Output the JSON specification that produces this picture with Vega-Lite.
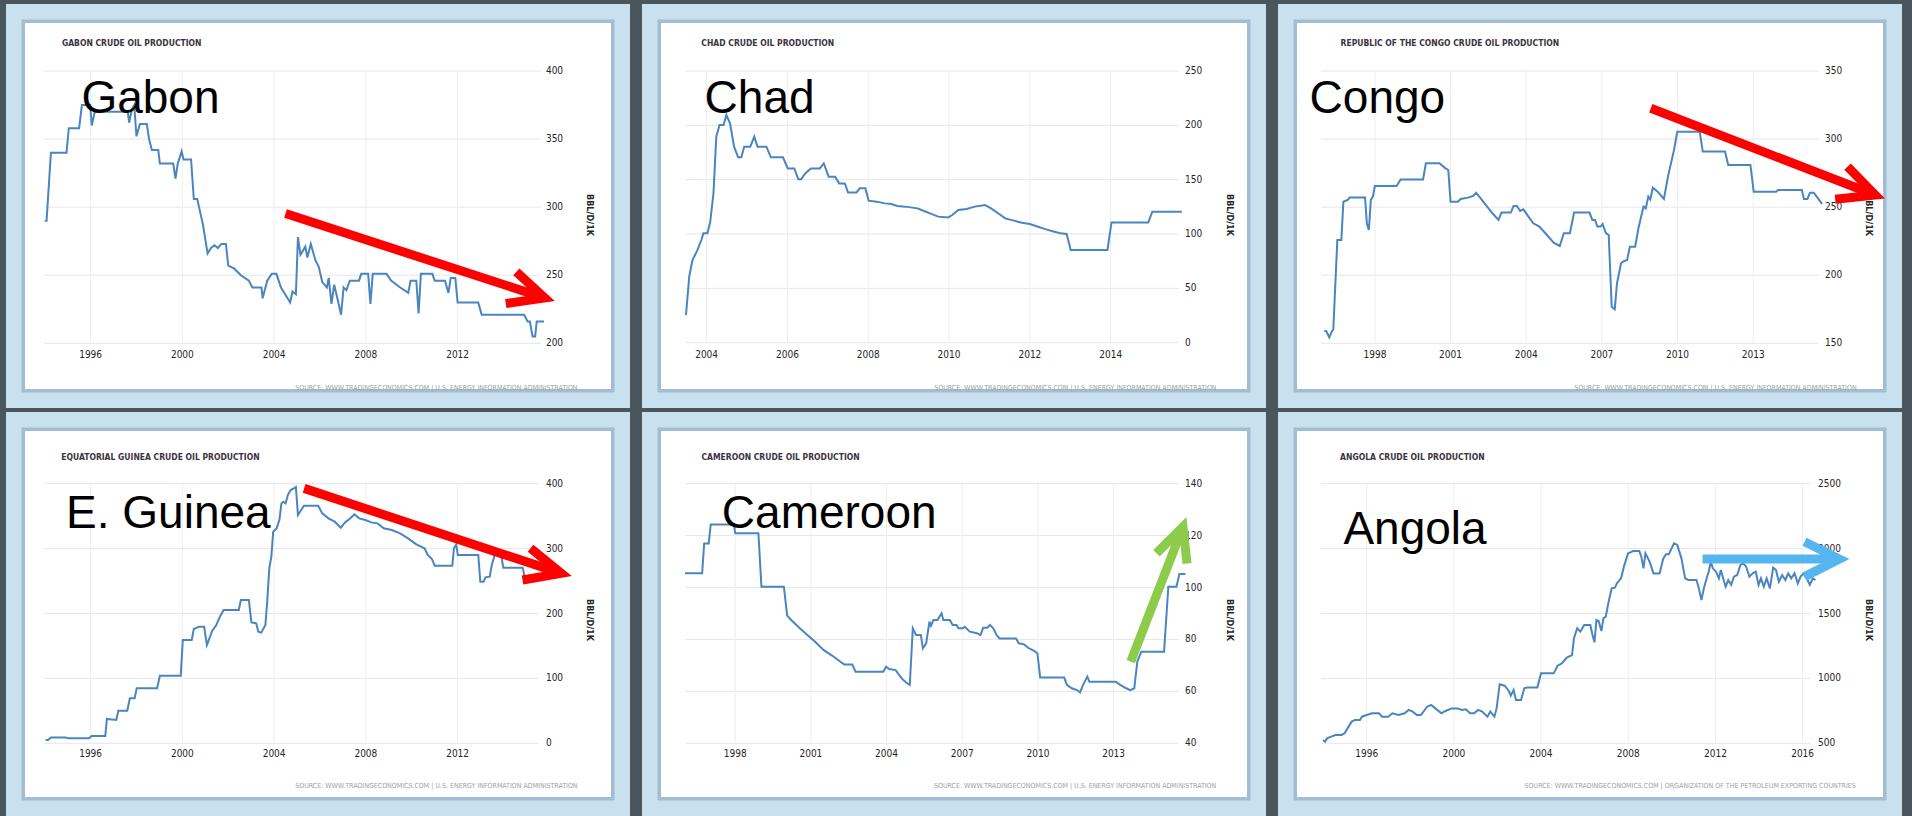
{
"$schema": "https://vega.github.io/schema/vega-lite/v6.json",
"background": "#4a565e",
"padding": {"left": 6, "top": 4, "right": 10, "bottom": 0},
"spacing": 4,
"config": {
 "view": {"fill": "white", "stroke": null},
 "text": {"font": "DejaVu Sans Condensed, Liberation Sans, sans-serif", "color": "#262626", "fontSize": 10}
},
"datasets": {
 "gab": [{"t":1994.0,"v":290},{"t":1994.08,"v":290},{"t":1994.27,"v":340},{"t":1994.95,"v":340},{"t":1995.05,"v":358},{"t":1995.5,"v":358},{"t":1995.62,"v":375},{"t":1995.98,"v":375},{"t":1996.05,"v":360},{"t":1996.18,"v":370},{"t":1996.5,"v":370},{"t":1997.0,"v":370},{"t":1997.62,"v":370},{"t":1997.68,"v":362},{"t":1997.8,"v":372},{"t":1997.9,"v":375},{"t":1998.0,"v":352},{"t":1998.15,"v":361},{"t":1998.45,"v":361},{"t":1998.55,"v":350},{"t":1998.67,"v":342},{"t":1998.95,"v":342},{"t":1999.02,"v":332},{"t":1999.6,"v":332},{"t":1999.7,"v":321},{"t":1999.8,"v":332},{"t":1999.97,"v":341},{"t":2000.05,"v":335},{"t":2000.38,"v":335},{"t":2000.5,"v":306},{"t":2000.65,"v":306},{"t":2000.9,"v":287},{"t":2001.1,"v":266},{"t":2001.25,"v":270},{"t":2001.4,"v":272},{"t":2001.55,"v":270},{"t":2001.7,"v":273},{"t":2001.9,"v":273},{"t":2002.0,"v":257},{"t":2002.25,"v":255},{"t":2002.55,"v":250},{"t":2002.9,"v":246},{"t":2003.05,"v":241},{"t":2003.45,"v":241},{"t":2003.5,"v":233},{"t":2003.7,"v":246},{"t":2003.9,"v":251},{"t":2004.1,"v":251},{"t":2004.3,"v":241},{"t":2004.7,"v":230},{"t":2004.8,"v":238},{"t":2004.95,"v":236},{"t":2005.04,"v":278},{"t":2005.15,"v":265},{"t":2005.36,"v":271},{"t":2005.45,"v":263},{"t":2005.6,"v":273},{"t":2005.8,"v":261},{"t":2005.95,"v":256},{"t":2006.1,"v":245},{"t":2006.3,"v":241},{"t":2006.38,"v":248},{"t":2006.5,"v":229},{"t":2006.62,"v":243},{"t":2006.8,"v":230},{"t":2006.92,"v":221},{"t":2007.03,"v":241},{"t":2007.15,"v":239},{"t":2007.3,"v":246},{"t":2007.7,"v":246},{"t":2007.8,"v":251},{"t":2008.1,"v":251},{"t":2008.2,"v":229},{"t":2008.3,"v":251},{"t":2008.9,"v":251},{"t":2009.1,"v":246},{"t":2009.5,"v":241},{"t":2009.85,"v":237},{"t":2009.95,"v":246},{"t":2010.2,"v":246},{"t":2010.3,"v":222},{"t":2010.4,"v":251},{"t":2010.9,"v":251},{"t":2011.0,"v":246},{"t":2011.45,"v":246},{"t":2011.6,"v":237},{"t":2011.7,"v":248},{"t":2011.9,"v":248},{"t":2012.0,"v":230},{"t":2012.9,"v":230},{"t":2013.05,"v":221},{"t":2014.9,"v":221},{"t":2015.05,"v":216},{"t":2015.15,"v":216},{"t":2015.27,"v":205},{"t":2015.38,"v":205},{"t":2015.45,"v":216},{"t":2015.77,"v":216}],
 "chd": [{"t":2003.49,"v":25.5},{"t":2003.57,"v":60.7},{"t":2003.65,"v":76},{"t":2003.77,"v":85},{"t":2003.87,"v":94.5},{"t":2003.92,"v":100.6},{"t":2004.02,"v":100.6},{"t":2004.09,"v":111.3},{"t":2004.17,"v":137.4},{"t":2004.24,"v":189.6},{"t":2004.32,"v":200.3},{"t":2004.42,"v":200.3},{"t":2004.49,"v":209.5},{"t":2004.58,"v":201.8},{"t":2004.68,"v":180.4},{"t":2004.78,"v":170.6},{"t":2004.86,"v":170.6},{"t":2004.93,"v":180.4},{"t":2005.08,"v":180.4},{"t":2005.18,"v":189.6},{"t":2005.26,"v":180.4},{"t":2005.48,"v":180.4},{"t":2005.59,"v":170.6},{"t":2005.89,"v":170.6},{"t":2006.01,"v":160.4},{"t":2006.17,"v":160.4},{"t":2006.27,"v":150.3},{"t":2006.34,"v":150.3},{"t":2006.44,"v":155.8},{"t":2006.58,"v":160.4},{"t":2006.8,"v":160.4},{"t":2006.9,"v":165},{"t":2007.02,"v":152.8},{"t":2007.18,"v":152.8},{"t":2007.28,"v":146.6},{"t":2007.42,"v":146.6},{"t":2007.5,"v":138.3},{"t":2007.71,"v":138.3},{"t":2007.79,"v":142},{"t":2007.93,"v":142},{"t":2008.01,"v":130.7},{"t":2008.21,"v":129.8},{"t":2008.41,"v":128.2},{"t":2008.57,"v":127.6},{"t":2008.72,"v":125.8},{"t":2008.92,"v":125.2},{"t":2009.22,"v":123.6},{"t":2009.32,"v":122.1},{"t":2009.53,"v":119},{"t":2009.73,"v":116},{"t":2009.98,"v":115.3},{"t":2010.08,"v":117.5},{"t":2010.23,"v":122.1},{"t":2010.43,"v":123},{"t":2010.64,"v":125.2},{"t":2010.89,"v":126.7},{"t":2011.04,"v":123.6},{"t":2011.24,"v":118.4},{"t":2011.39,"v":114.4},{"t":2011.6,"v":112.3},{"t":2011.8,"v":110.4},{"t":2012.0,"v":109.2},{"t":2012.2,"v":106.7},{"t":2012.4,"v":104.3},{"t":2012.61,"v":102.1},{"t":2012.76,"v":100.6},{"t":2012.91,"v":100},{"t":2013.01,"v":85.3},{"t":2013.92,"v":85.3},{"t":2014.02,"v":110.7},{"t":2014.93,"v":110.7},{"t":2015.03,"v":120.6},{"t":2015.76,"v":120.6}],
 "cgo": [{"t":1995.99,"v":159},{"t":1996.07,"v":159},{"t":1996.19,"v":154.4},{"t":1996.3,"v":159},{"t":1996.35,"v":160},{"t":1996.51,"v":225.9},{"t":1996.67,"v":225.9},{"t":1996.75,"v":254},{"t":1996.92,"v":255.3},{"t":1997.0,"v":257},{"t":1997.61,"v":257},{"t":1997.68,"v":238.1},{"t":1997.76,"v":233.2},{"t":1997.84,"v":255.3},{"t":1997.92,"v":257.7},{"t":1998.0,"v":265.5},{"t":1998.86,"v":265.5},{"t":1999.02,"v":270.4},{"t":1999.91,"v":270.4},{"t":2000.02,"v":282.2},{"t":2000.56,"v":282.2},{"t":2000.8,"v":278.5},{"t":2000.91,"v":277.3},{"t":2001.0,"v":254},{"t":2001.29,"v":254},{"t":2001.4,"v":256},{"t":2001.69,"v":257},{"t":2001.9,"v":258.2},{"t":2002.01,"v":260.6},{"t":2002.17,"v":257},{"t":2002.42,"v":251.1},{"t":2002.66,"v":245.5},{"t":2002.9,"v":240.6},{"t":2003.02,"v":246},{"t":2003.39,"v":246},{"t":2003.5,"v":250.9},{"t":2003.63,"v":250.9},{"t":2003.76,"v":247.2},{"t":2003.89,"v":248.4},{"t":2004.04,"v":244.3},{"t":2004.28,"v":238.1},{"t":2004.52,"v":235.7},{"t":2004.76,"v":230.8},{"t":2005.09,"v":223.9},{"t":2005.33,"v":221.5},{"t":2005.49,"v":230.8},{"t":2005.73,"v":230.8},{"t":2005.9,"v":246},{"t":2006.51,"v":246},{"t":2006.62,"v":240.6},{"t":2006.73,"v":240.6},{"t":2006.82,"v":235.7},{"t":2006.95,"v":235.7},{"t":2007.03,"v":237.6},{"t":2007.16,"v":230.8},{"t":2007.27,"v":229.6},{"t":2007.39,"v":176.9},{"t":2007.51,"v":175},{"t":2007.6,"v":194.1},{"t":2007.76,"v":208.8},{"t":2007.84,"v":210},{"t":2008.0,"v":211.2},{"t":2008.11,"v":221},{"t":2008.32,"v":221},{"t":2008.45,"v":234.5},{"t":2008.65,"v":250.4},{"t":2008.74,"v":249.1},{"t":2008.84,"v":257.7},{"t":2008.92,"v":255.7},{"t":2009.02,"v":264.3},{"t":2009.21,"v":261.4},{"t":2009.46,"v":256},{"t":2009.62,"v":272.4},{"t":2009.86,"v":292},{"t":2009.99,"v":305.4},{"t":2010.88,"v":305.4},{"t":2011.0,"v":290.8},{"t":2011.88,"v":290.8},{"t":2012.01,"v":281},{"t":2012.89,"v":281},{"t":2013.02,"v":261.4},{"t":2013.91,"v":261.4},{"t":2013.99,"v":262.6},{"t":2014.93,"v":262.6},{"t":2015.01,"v":256},{"t":2015.15,"v":256},{"t":2015.25,"v":260.6},{"t":2015.4,"v":260.6},{"t":2015.57,"v":256.5},{"t":2015.73,"v":252.3}],
 "eqg": [{"t":1994.04,"v":5},{"t":1994.15,"v":5},{"t":1994.27,"v":9},{"t":1994.9,"v":9},{"t":1995.04,"v":7.7},{"t":1995.93,"v":7.7},{"t":1996.05,"v":11.3},{"t":1996.64,"v":11.3},{"t":1996.71,"v":37.5},{"t":1997.12,"v":36},{"t":1997.21,"v":50.3},{"t":1997.6,"v":50.3},{"t":1997.71,"v":69.3},{"t":1997.92,"v":69.3},{"t":1998.01,"v":84.7},{"t":1998.9,"v":84.7},{"t":1999.02,"v":104.2},{"t":1999.93,"v":104.2},{"t":2000.02,"v":159.2},{"t":2000.41,"v":159.2},{"t":2000.5,"v":176.1},{"t":2000.73,"v":179.7},{"t":2000.95,"v":179.7},{"t":2001.07,"v":151.5},{"t":2001.18,"v":161.7},{"t":2001.3,"v":173},{"t":2001.48,"v":182.3},{"t":2001.66,"v":196.6},{"t":2001.8,"v":205.4},{"t":2002.46,"v":205.4},{"t":2002.55,"v":220.8},{"t":2002.9,"v":220.8},{"t":2003.01,"v":186.4},{"t":2003.22,"v":184.9},{"t":2003.31,"v":172},{"t":2003.44,"v":170.5},{"t":2003.62,"v":182.3},{"t":2003.7,"v":218.2},{"t":2003.79,"v":269.6},{"t":2003.88,"v":287.5},{"t":2003.96,"v":326},{"t":2004.11,"v":331.2},{"t":2004.23,"v":344},{"t":2004.32,"v":369.7},{"t":2004.4,"v":372.3},{"t":2004.5,"v":369.7},{"t":2004.6,"v":382.5},{"t":2004.72,"v":390.2},{"t":2004.86,"v":392.8},{"t":2004.95,"v":394.9},{"t":2005.04,"v":351.7},{"t":2005.18,"v":359.4},{"t":2005.3,"v":366.1},{"t":2005.92,"v":366.1},{"t":2006.1,"v":354.3},{"t":2006.37,"v":346.6},{"t":2006.64,"v":341.5},{"t":2006.91,"v":332.2},{"t":2007.09,"v":340.4},{"t":2007.35,"v":347.6},{"t":2007.5,"v":352.8},{"t":2007.71,"v":346.6},{"t":2007.98,"v":344},{"t":2008.24,"v":340.4},{"t":2008.51,"v":338.9},{"t":2008.78,"v":331.2},{"t":2009.13,"v":328.6},{"t":2009.49,"v":323.5},{"t":2009.84,"v":315.8},{"t":2010.2,"v":306.5},{"t":2010.56,"v":300.4},{"t":2010.7,"v":290.1},{"t":2010.88,"v":284},{"t":2011.0,"v":273.7},{"t":2011.77,"v":273.7},{"t":2011.84,"v":300.4},{"t":2011.94,"v":306.5},{"t":2012.01,"v":290.1},{"t":2012.9,"v":290.1},{"t":2012.99,"v":249},{"t":2013.13,"v":249},{"t":2013.22,"v":255.7},{"t":2013.4,"v":256.7},{"t":2013.49,"v":274.7},{"t":2013.62,"v":290.1},{"t":2013.9,"v":290.1},{"t":2013.99,"v":270.6},{"t":2014.84,"v":270.6},{"t":2014.93,"v":254.2},{"t":2015.73,"v":251.6}],
 "cmr": [{"t":1996.01,"v":105.5},{"t":1996.69,"v":105.5},{"t":1996.77,"v":117},{"t":1996.95,"v":117},{"t":1997.03,"v":124.3},{"t":1997.95,"v":124.3},{"t":1998.0,"v":120.9},{"t":1998.92,"v":120.9},{"t":1999.04,"v":100.3},{"t":1999.93,"v":100.3},{"t":2000.06,"v":89.2},{"t":2000.22,"v":87.5},{"t":2000.54,"v":84.5},{"t":2000.86,"v":81.7},{"t":2001.19,"v":78.9},{"t":2001.51,"v":75.9},{"t":2001.84,"v":73.8},{"t":2002.16,"v":71.5},{"t":2002.32,"v":70.4},{"t":2002.64,"v":70.4},{"t":2002.77,"v":67.6},{"t":2003.87,"v":67.6},{"t":2003.98,"v":69.5},{"t":2004.11,"v":68.6},{"t":2004.36,"v":68.2},{"t":2004.6,"v":65},{"t":2004.76,"v":63.5},{"t":2004.92,"v":62.5},{"t":2005.04,"v":84.3},{"t":2005.17,"v":81.7},{"t":2005.36,"v":81.7},{"t":2005.44,"v":76.6},{"t":2005.57,"v":78.5},{"t":2005.7,"v":86.9},{"t":2005.76,"v":85.3},{"t":2005.86,"v":87.5},{"t":2006.02,"v":87.5},{"t":2006.18,"v":90.1},{"t":2006.25,"v":87.5},{"t":2006.51,"v":87.5},{"t":2006.62,"v":85.6},{"t":2006.77,"v":85.6},{"t":2006.85,"v":84.3},{"t":2007.02,"v":84.3},{"t":2007.1,"v":84.9},{"t":2007.3,"v":83},{"t":2007.58,"v":82.4},{"t":2007.72,"v":81.7},{"t":2007.83,"v":84.5},{"t":2007.99,"v":84.5},{"t":2008.1,"v":85.6},{"t":2008.23,"v":84.3},{"t":2008.36,"v":81.7},{"t":2008.48,"v":80.4},{"t":2009.13,"v":80.4},{"t":2009.24,"v":78.5},{"t":2009.45,"v":78.1},{"t":2009.61,"v":76.8},{"t":2009.85,"v":75.6},{"t":2009.98,"v":74.7},{"t":2010.09,"v":65.3},{"t":2011.04,"v":65.3},{"t":2011.15,"v":62.5},{"t":2011.34,"v":61.2},{"t":2011.55,"v":60.5},{"t":2011.67,"v":59.6},{"t":2011.8,"v":62.7},{"t":2011.96,"v":65.7},{"t":2012.04,"v":63.7},{"t":2013.09,"v":63.7},{"t":2013.26,"v":62.5},{"t":2013.5,"v":61.2},{"t":2013.66,"v":60.5},{"t":2013.82,"v":61.2},{"t":2013.94,"v":71.5},{"t":2014.1,"v":75.3},{"t":2015.0,"v":75.3},{"t":2015.17,"v":100.3},{"t":2015.49,"v":100.3},{"t":2015.61,"v":105.2},{"t":2015.85,"v":105.2}],
 "ago": [{"t":1994.0,"v":526},{"t":1994.09,"v":513},{"t":1994.18,"v":538},{"t":1994.37,"v":551},{"t":1994.56,"v":564},{"t":1994.84,"v":564},{"t":1994.99,"v":577},{"t":1995.12,"v":615},{"t":1995.31,"v":667},{"t":1995.46,"v":680},{"t":1995.69,"v":680},{"t":1995.78,"v":705},{"t":1996.0,"v":718},{"t":1996.24,"v":731},{"t":1996.56,"v":731},{"t":1996.71,"v":705},{"t":1996.99,"v":705},{"t":1997.18,"v":731},{"t":1997.46,"v":718},{"t":1997.74,"v":731},{"t":1997.93,"v":757},{"t":1998.11,"v":744},{"t":1998.3,"v":718},{"t":1998.49,"v":718},{"t":1998.77,"v":782},{"t":1998.96,"v":795},{"t":1999.15,"v":769},{"t":1999.43,"v":731},{"t":1999.61,"v":749},{"t":1999.9,"v":769},{"t":2000.18,"v":769},{"t":2000.36,"v":757},{"t":2000.55,"v":762},{"t":2000.74,"v":731},{"t":2000.93,"v":731},{"t":2001.11,"v":757},{"t":2001.3,"v":744},{"t":2001.54,"v":705},{"t":2001.67,"v":744},{"t":2001.86,"v":705},{"t":2001.96,"v":769},{"t":2002.1,"v":955},{"t":2002.33,"v":944},{"t":2002.52,"v":903},{"t":2002.61,"v":867},{"t":2002.74,"v":911},{"t":2002.85,"v":834},{"t":2003.08,"v":834},{"t":2003.23,"v":924},{"t":2003.36,"v":929},{"t":2003.83,"v":929},{"t":2004.0,"v":1039},{"t":2004.58,"v":1039},{"t":2004.76,"v":1098},{"t":2004.95,"v":1116},{"t":2005.18,"v":1160},{"t":2005.42,"v":1180},{"t":2005.51,"v":1309},{"t":2005.66,"v":1386},{"t":2005.8,"v":1360},{"t":2005.98,"v":1411},{"t":2006.26,"v":1411},{"t":2006.36,"v":1334},{"t":2006.45,"v":1278},{"t":2006.54,"v":1450},{"t":2006.64,"v":1442},{"t":2006.77,"v":1365},{"t":2006.86,"v":1463},{"t":2006.97,"v":1476},{"t":2007.1,"v":1591},{"t":2007.24,"v":1694},{"t":2007.39,"v":1699},{"t":2007.48,"v":1732},{"t":2007.67,"v":1771},{"t":2007.8,"v":1861},{"t":2007.99,"v":1963},{"t":2008.23,"v":1981},{"t":2008.51,"v":1981},{"t":2008.6,"v":1938},{"t":2008.7,"v":1848},{"t":2008.79,"v":1963},{"t":2008.98,"v":1899},{"t":2009.16,"v":1809},{"t":2009.44,"v":1809},{"t":2009.6,"v":1920},{"t":2009.73,"v":1956},{"t":2009.86,"v":1956},{"t":2010.1,"v":2040},{"t":2010.25,"v":2028},{"t":2010.44,"v":1925},{"t":2010.61,"v":1771},{"t":2010.76,"v":1758},{"t":2011.13,"v":1758},{"t":2011.22,"v":1707},{"t":2011.36,"v":1604},{"t":2011.47,"v":1694},{"t":2011.6,"v":1771},{"t":2011.69,"v":1822},{"t":2011.79,"v":1899},{"t":2011.88,"v":1848},{"t":2012.03,"v":1822},{"t":2012.16,"v":1771},{"t":2012.25,"v":1835},{"t":2012.4,"v":1745},{"t":2012.47,"v":1707},{"t":2012.59,"v":1758},{"t":2012.72,"v":1720},{"t":2012.85,"v":1784},{"t":2013.0,"v":1797},{"t":2013.15,"v":1874},{"t":2013.28,"v":1886},{"t":2013.41,"v":1861},{"t":2013.56,"v":1784},{"t":2013.71,"v":1809},{"t":2013.85,"v":1822},{"t":2013.98,"v":1720},{"t":2014.09,"v":1771},{"t":2014.22,"v":1707},{"t":2014.35,"v":1771},{"t":2014.5,"v":1694},{"t":2014.65,"v":1853},{"t":2014.78,"v":1835},{"t":2014.91,"v":1745},{"t":2015.06,"v":1797},{"t":2015.21,"v":1758},{"t":2015.34,"v":1809},{"t":2015.48,"v":1771},{"t":2015.63,"v":1809},{"t":2015.78,"v":1732},{"t":2015.91,"v":1784},{"t":2016.04,"v":1809},{"t":2016.19,"v":1771},{"t":2016.33,"v":1720},{"t":2016.47,"v":1771},{"t":2016.59,"v":1758}],
 "gab_yt": [{"v":200},{"v":250},{"v":300},{"v":350},{"v":400}],
 "gab_xt": [{"t":1996},{"t":2000},{"t":2004},{"t":2008},{"t":2012}],
 "chd_yt": [{"v":0},{"v":50},{"v":100},{"v":150},{"v":200},{"v":250}],
 "chd_xt": [{"t":2004},{"t":2006},{"t":2008},{"t":2010},{"t":2012},{"t":2014}],
 "cgo_yt": [{"v":150},{"v":200},{"v":250},{"v":300},{"v":350}],
 "cgo_xt": [{"t":1998},{"t":2001},{"t":2004},{"t":2007},{"t":2010},{"t":2013}],
 "eqg_yt": [{"v":0},{"v":100},{"v":200},{"v":300},{"v":400}],
 "eqg_xt": [{"t":1996},{"t":2000},{"t":2004},{"t":2008},{"t":2012}],
 "cmr_yt": [{"v":40},{"v":60},{"v":80},{"v":100},{"v":120},{"v":140}],
 "cmr_xt": [{"t":1998},{"t":2001},{"t":2004},{"t":2007},{"t":2010},{"t":2013}],
 "ago_yt": [{"v":500},{"v":1000},{"v":1500},{"v":2000},{"v":2500}],
 "ago_xt": [{"t":1996},{"t":2000},{"t":2004},{"t":2008},{"t":2012},{"t":2016}],
 "gab_arr": [{"p":"s","o":1,"t":2004.5,"v":295.3},{"p":"s","o":2,"t":2015.4,"v":235.5},{"p":"h","o":1,"t":2014.56,"v":252.5},{"p":"h","o":2,"t":2015.8,"v":233.3},{"p":"h","o":3,"t":2014.1,"v":229.2}],
 "cgo_arr": [{"p":"s","o":1,"t":2008.94,"v":322.6},{"p":"s","o":2,"t":2017.45,"v":261.7},{"p":"h","o":1,"t":2016.74,"v":279.7},{"p":"h","o":2,"t":2017.84,"v":258.9},{"p":"h","o":3,"t":2016.25,"v":255.8}],
 "eqg_arr": [{"p":"s","o":1,"t":2005.31,"v":392.8},{"p":"s","o":2,"t":2016.1,"v":266.8},{"p":"h","o":1,"t":2015.18,"v":300.4},{"p":"h","o":2,"t":2016.52,"v":261.9},{"p":"h","o":3,"t":2014.83,"v":251.6}],
 "cmr_arr": [{"p":"s","o":1,"t":2013.68,"v":71.5},{"p":"s","o":2,"t":2015.6,"v":119.6},{"p":"h","o":1,"t":2014.7,"v":113.2},{"p":"h","o":2,"t":2015.75,"v":123.4},{"p":"h","o":3,"t":2015.91,"v":109.3}],
 "ago_arr": [{"p":"s","o":1,"t":2011.41,"v":1920},{"p":"s","o":2,"t":2017.4,"v":1920},{"p":"h","o":1,"t":2016.09,"v":2053},{"p":"h","o":2,"t":2017.69,"v":1920},{"p":"h","o":3,"t":2016.09,"v":1784}]
},
"vconcat": [
{"spacing": 12, "hconcat": [
 {"width": 624, "height": 404, "layer": [
  {"data": {"values": [{}]}, "mark": {"type": "rect", "fill": "transparent", "stroke": "#a3bed3", "strokeWidth": 38, "clip": true}, "encoding": {}},
  {"data": {"values": [{}]}, "mark": {"type": "rect", "fill": "transparent", "stroke": "#c9e0ef", "strokeWidth": 31, "clip": true}, "encoding": {}},
  {"data": {"name": "gab_yt"}, "mark": {"type": "rule", "color": "#e6e6e6"}, "encoding": {"y": {"field": "v", "type": "quantitative", "axis": null}, "x": {"datum": 1993.97, "axis": null}, "x2": {"datum": 2015.63}}},
  {"data": {"name": "gab_xt"}, "mark": {"type": "rule", "color": "#eeeeee"}, "encoding": {"x": {"field": "t", "type": "quantitative", "axis": null}, "y": {"datum": 200, "axis": null}, "y2": {"datum": 400}}},
  {"data": {"name": "gab"}, "mark": {"type": "line", "color": "#4a85c0", "strokeWidth": 2}, "encoding": {
    "x": {"field": "t", "type": "quantitative", "scale": {"domain": [1996, 2012], "range": [84.6, 451.6], "nice": false, "zero": false}, "axis": null},
    "y": {"field": "v", "type": "quantitative", "scale": {"domain": [200, 400], "range": [339.3, 67], "nice": false, "zero": false}, "axis": null}}},
  {"data": {"name": "gab_yt"}, "mark": {"type": "text", "align": "left", "baseline": "middle"}, "encoding": {"y": {"field": "v", "type": "quantitative", "axis": null}, "x": {"datum": 2015.85, "axis": null}, "text": {"field": "v", "type": "quantitative", "format": "d"}}},
  {"data": {"name": "gab_xt"}, "mark": {"type": "text", "align": "center", "baseline": "middle"}, "encoding": {"x": {"field": "t", "type": "quantitative", "axis": null}, "y": {"datum": 191.4, "axis": null}, "text": {"field": "t", "type": "quantitative", "format": "d"}}},
  {"data": {"values": [{}]}, "mark": {"type": "text", "text": "BBL/D/1K", "angle": 90, "align": "center", "baseline": "middle", "fontSize": 9, "fontWeight": "bold"}, "encoding": {"x": {"datum": 2017.77, "axis": null}, "y": {"datum": 294.2, "axis": null}}},
  {"data": {"name": "gab_arr"}, "mark": {"type": "line", "color": "#ff0000", "strokeWidth": 9, "strokeCap": "butt", "strokeJoin": "miter"}, "encoding": {"x": {"field": "t", "type": "quantitative", "axis": null}, "y": {"field": "v", "type": "quantitative", "axis": null}, "detail": {"field": "p"}, "order": {"field": "o"}}},
  {"data": {"values": [{}]}, "mark": {"type": "text", "text": "Gabon", "font": "Liberation Sans", "fontSize": 46, "align": "left", "baseline": "alphabetic", "color": "#000000"}, "encoding": {"x": {"datum": 1995.6, "axis": null}, "y": {"datum": 368.9, "axis": null}}},
  {"data": {"values": [{}]}, "mark": {"type": "text", "text": "GABON CRUDE OIL PRODUCTION", "fontSize": 8.5, "fontWeight": "bold", "align": "left", "baseline": "middle", "color": "#3a3340"}, "encoding": {"x": {"datum": 1994.75, "axis": null}, "y": {"datum": 420.8, "axis": null}}},
  {"data": {"values": [{}]}, "mark": {"type": "text", "text": "SOURCE: WWW.TRADINGECONOMICS.COM | U.S. ENERGY INFORMATION ADMINISTRATION", "fontSize": 7, "align": "right", "baseline": "middle", "color": "#a0a0a0"}, "encoding": {"x": {"datum": 2017.23, "axis": null}, "y": {"datum": 166.9, "axis": null}}}
 ]},
 {"width": 624, "height": 404, "layer": [
  {"data": {"values": [{}]}, "mark": {"type": "rect", "fill": "transparent", "stroke": "#a3bed3", "strokeWidth": 38, "clip": true}, "encoding": {}},
  {"data": {"values": [{}]}, "mark": {"type": "rect", "fill": "transparent", "stroke": "#c9e0ef", "strokeWidth": 31, "clip": true}, "encoding": {}},
  {"data": {"name": "chd_yt"}, "mark": {"type": "rule", "color": "#e6e6e6"}, "encoding": {"y": {"field": "v", "type": "quantitative", "axis": null}, "x": {"datum": 2003.47, "axis": null}, "x2": {"datum": 2015.69}}},
  {"data": {"name": "chd_xt"}, "mark": {"type": "rule", "color": "#eeeeee"}, "encoding": {"x": {"field": "t", "type": "quantitative", "axis": null}, "y": {"datum": 0, "axis": null}, "y2": {"datum": 250}}},
  {"data": {"name": "chd"}, "mark": {"type": "line", "color": "#4a85c0", "strokeWidth": 2}, "encoding": {
    "x": {"field": "t", "type": "quantitative", "scale": {"domain": [2004, 2014], "range": [64.6, 468.7], "nice": false, "zero": false}, "axis": null},
    "y": {"field": "v", "type": "quantitative", "scale": {"domain": [0, 250], "range": [338.7, 67], "nice": false, "zero": false}, "axis": null}}},
  {"data": {"name": "chd_yt"}, "mark": {"type": "text", "align": "left", "baseline": "middle"}, "encoding": {"y": {"field": "v", "type": "quantitative", "axis": null}, "x": {"datum": 2015.84, "axis": null}, "text": {"field": "v", "type": "quantitative", "format": "d"}}},
  {"data": {"name": "chd_xt"}, "mark": {"type": "text", "align": "center", "baseline": "middle"}, "encoding": {"x": {"field": "t", "type": "quantitative", "axis": null}, "y": {"datum": -11.3, "axis": null}, "text": {"field": "t", "type": "quantitative", "format": "d"}}},
  {"data": {"values": [{}]}, "mark": {"type": "text", "text": "BBL/D/1K", "angle": 90, "align": "center", "baseline": "middle", "fontSize": 9, "fontWeight": "bold"}, "encoding": {"x": {"datum": 2016.95, "axis": null}, "y": {"datum": 117.5, "axis": null}}},
  {"data": {"values": [{}]}, "mark": {"type": "text", "text": "Chad", "font": "Liberation Sans", "fontSize": 46, "align": "left", "baseline": "alphabetic", "color": "#000000"}, "encoding": {"x": {"datum": 2003.95, "axis": null}, "y": {"datum": 211, "axis": null}}},
  {"data": {"values": [{}]}, "mark": {"type": "text", "text": "CHAD CRUDE OIL PRODUCTION", "fontSize": 8.5, "fontWeight": "bold", "align": "left", "baseline": "middle", "color": "#3a3340"}, "encoding": {"x": {"datum": 2003.87, "axis": null}, "y": {"datum": 276.0, "axis": null}}},
  {"data": {"values": [{}]}, "mark": {"type": "text", "text": "SOURCE: WWW.TRADINGECONOMICS.COM | U.S. ENERGY INFORMATION ADMINISTRATION", "fontSize": 7, "align": "right", "baseline": "middle", "color": "#a0a0a0"}, "encoding": {"x": {"datum": 2016.62, "axis": null}, "y": {"datum": -42.0, "axis": null}}}
 ]},
 {"width": 624, "height": 404, "layer": [
  {"data": {"values": [{}]}, "mark": {"type": "rect", "fill": "transparent", "stroke": "#a3bed3", "strokeWidth": 38, "clip": true}, "encoding": {}},
  {"data": {"values": [{}]}, "mark": {"type": "rect", "fill": "transparent", "stroke": "#c9e0ef", "strokeWidth": 31, "clip": true}, "encoding": {}},
  {"data": {"name": "cgo_yt"}, "mark": {"type": "rule", "color": "#e6e6e6"}, "encoding": {"y": {"field": "v", "type": "quantitative", "axis": null}, "x": {"datum": 1995.86, "axis": null}, "x2": {"datum": 2015.61}}},
  {"data": {"name": "cgo_xt"}, "mark": {"type": "rule", "color": "#eeeeee"}, "encoding": {"x": {"field": "t", "type": "quantitative", "axis": null}, "y": {"datum": 150, "axis": null}, "y2": {"datum": 350}}},
  {"data": {"name": "cgo"}, "mark": {"type": "line", "color": "#4a85c0", "strokeWidth": 2}, "encoding": {
    "x": {"field": "t", "type": "quantitative", "scale": {"domain": [1998, 2013], "range": [96.9, 475.2], "nice": false, "zero": false}, "axis": null},
    "y": {"field": "v", "type": "quantitative", "scale": {"domain": [150, 350], "range": [339.3, 67], "nice": false, "zero": false}, "axis": null}}},
  {"data": {"name": "cgo_yt"}, "mark": {"type": "text", "align": "left", "baseline": "middle"}, "encoding": {"y": {"field": "v", "type": "quantitative", "axis": null}, "x": {"datum": 2015.85, "axis": null}, "text": {"field": "v", "type": "quantitative", "format": "d"}}},
  {"data": {"name": "cgo_xt"}, "mark": {"type": "text", "align": "center", "baseline": "middle"}, "encoding": {"x": {"field": "t", "type": "quantitative", "axis": null}, "y": {"datum": 141.4, "axis": null}, "text": {"field": "t", "type": "quantitative", "format": "d"}}},
  {"data": {"values": [{}]}, "mark": {"type": "text", "text": "BBL/D/1K", "angle": 90, "align": "center", "baseline": "middle", "fontSize": 9, "fontWeight": "bold"}, "encoding": {"x": {"datum": 2017.58, "axis": null}, "y": {"datum": 244.2, "axis": null}}},
  {"data": {"name": "cgo_arr"}, "mark": {"type": "line", "color": "#ff0000", "strokeWidth": 9, "strokeCap": "butt", "strokeJoin": "miter"}, "encoding": {"x": {"field": "t", "type": "quantitative", "axis": null}, "y": {"field": "v", "type": "quantitative", "axis": null}, "detail": {"field": "p"}, "order": {"field": "o"}}},
  {"data": {"values": [{}]}, "mark": {"type": "text", "text": "Congo", "font": "Liberation Sans", "fontSize": 46, "align": "left", "baseline": "alphabetic", "color": "#000000"}, "encoding": {"x": {"datum": 1995.41, "axis": null}, "y": {"datum": 318.9, "axis": null}}},
  {"data": {"values": [{}]}, "mark": {"type": "text", "text": "REPUBLIC OF THE CONGO CRUDE OIL PRODUCTION", "fontSize": 8.5, "fontWeight": "bold", "align": "left", "baseline": "middle", "color": "#3a3340"}, "encoding": {"x": {"datum": 1996.64, "axis": null}, "y": {"datum": 370.8, "axis": null}}},
  {"data": {"values": [{}]}, "mark": {"type": "text", "text": "SOURCE: WWW.TRADINGECONOMICS.COM | U.S. ENERGY INFORMATION ADMINISTRATION", "fontSize": 7, "align": "right", "baseline": "middle", "color": "#a0a0a0"}, "encoding": {"x": {"datum": 2017.10, "axis": null}, "y": {"datum": 116.9, "axis": null}}}
 ]}
]},
{"spacing": 12, "hconcat": [
 {"width": 624, "height": 404, "layer": [
  {"data": {"values": [{}]}, "mark": {"type": "rect", "fill": "transparent", "stroke": "#a3bed3", "strokeWidth": 38, "clip": true}, "encoding": {}},
  {"data": {"values": [{}]}, "mark": {"type": "rect", "fill": "transparent", "stroke": "#c9e0ef", "strokeWidth": 31, "clip": true}, "encoding": {}},
  {"data": {"name": "eqg_yt"}, "mark": {"type": "rule", "color": "#e6e6e6"}, "encoding": {"y": {"field": "v", "type": "quantitative", "axis": null}, "x": {"datum": 1993.97, "axis": null}, "x2": {"datum": 2015.54}}},
  {"data": {"name": "eqg_xt"}, "mark": {"type": "rule", "color": "#eeeeee"}, "encoding": {"x": {"field": "t", "type": "quantitative", "axis": null}, "y": {"datum": 0, "axis": null}, "y2": {"datum": 400}}},
  {"data": {"name": "eqg"}, "mark": {"type": "line", "color": "#4a85c0", "strokeWidth": 2}, "encoding": {
    "x": {"field": "t", "type": "quantitative", "scale": {"domain": [1996, 2012], "range": [84.6, 451.6], "nice": false, "zero": false}, "axis": null},
    "y": {"field": "v", "type": "quantitative", "scale": {"domain": [0, 400], "range": [331.3, 71.7], "nice": false, "zero": false}, "axis": null}}},
  {"data": {"name": "eqg_yt"}, "mark": {"type": "text", "align": "left", "baseline": "middle"}, "encoding": {"y": {"field": "v", "type": "quantitative", "axis": null}, "x": {"datum": 2015.85, "axis": null}, "text": {"field": "v", "type": "quantitative", "format": "d"}}},
  {"data": {"name": "eqg_xt"}, "mark": {"type": "text", "align": "center", "baseline": "middle"}, "encoding": {"x": {"field": "t", "type": "quantitative", "axis": null}, "y": {"datum": -16.95, "axis": null}, "text": {"field": "t", "type": "quantitative", "format": "d"}}},
  {"data": {"values": [{}]}, "mark": {"type": "text", "text": "BBL/D/1K", "angle": 90, "align": "center", "baseline": "middle", "fontSize": 9, "fontWeight": "bold"}, "encoding": {"x": {"datum": 2017.77, "axis": null}, "y": {"datum": 190, "axis": null}}},
  {"data": {"name": "eqg_arr"}, "mark": {"type": "line", "color": "#ff0000", "strokeWidth": 9, "strokeCap": "butt", "strokeJoin": "miter"}, "encoding": {"x": {"field": "t", "type": "quantitative", "axis": null}, "y": {"field": "v", "type": "quantitative", "axis": null}, "detail": {"field": "p"}, "order": {"field": "o"}}},
  {"data": {"values": [{}]}, "mark": {"type": "text", "text": "E. Guinea", "font": "Liberation Sans", "fontSize": 46, "align": "left", "baseline": "alphabetic", "color": "#000000"}, "encoding": {"x": {"datum": 1994.93, "axis": null}, "y": {"datum": 332.2, "axis": null}}},
  {"data": {"values": [{}]}, "mark": {"type": "text", "text": "EQUATORIAL GUINEA CRUDE OIL PRODUCTION", "fontSize": 8.5, "fontWeight": "bold", "align": "left", "baseline": "middle", "color": "#3a3340"}, "encoding": {"x": {"datum": 1994.72, "axis": null}, "y": {"datum": 441.6, "axis": null}}},
  {"data": {"values": [{}]}, "mark": {"type": "text", "text": "SOURCE: WWW.TRADINGECONOMICS.COM | U.S. ENERGY INFORMATION ADMINISTRATION", "fontSize": 7, "align": "right", "baseline": "middle", "color": "#a0a0a0"}, "encoding": {"x": {"datum": 2017.23, "axis": null}, "y": {"datum": -65.3, "axis": null}}}
 ]},
 {"width": 624, "height": 404, "layer": [
  {"data": {"values": [{}]}, "mark": {"type": "rect", "fill": "transparent", "stroke": "#a3bed3", "strokeWidth": 38, "clip": true}, "encoding": {}},
  {"data": {"values": [{}]}, "mark": {"type": "rect", "fill": "transparent", "stroke": "#c9e0ef", "strokeWidth": 31, "clip": true}, "encoding": {}},
  {"data": {"name": "cmr_yt"}, "mark": {"type": "rule", "color": "#e6e6e6"}, "encoding": {"y": {"field": "v", "type": "quantitative", "axis": null}, "x": {"datum": 1996.01, "axis": null}, "x2": {"datum": 2015.59}}},
  {"data": {"name": "cmr_xt"}, "mark": {"type": "rule", "color": "#eeeeee"}, "encoding": {"x": {"field": "t", "type": "quantitative", "axis": null}, "y": {"datum": 40, "axis": null}, "y2": {"datum": 140}}},
  {"data": {"name": "cmr"}, "mark": {"type": "line", "color": "#4a85c0", "strokeWidth": 2}, "encoding": {
    "x": {"field": "t", "type": "quantitative", "scale": {"domain": [1998, 2013], "range": [93.2, 471.6], "nice": false, "zero": false}, "axis": null},
    "y": {"field": "v", "type": "quantitative", "scale": {"domain": [40, 140], "range": [331.3, 71.7], "nice": false, "zero": false}, "axis": null}}},
  {"data": {"name": "cmr_yt"}, "mark": {"type": "text", "align": "left", "baseline": "middle"}, "encoding": {"y": {"field": "v", "type": "quantitative", "axis": null}, "x": {"datum": 2015.83, "axis": null}, "text": {"field": "v", "type": "quantitative", "format": "d"}}},
  {"data": {"name": "cmr_xt"}, "mark": {"type": "text", "align": "center", "baseline": "middle"}, "encoding": {"x": {"field": "t", "type": "quantitative", "axis": null}, "y": {"datum": 35.8, "axis": null}, "text": {"field": "t", "type": "quantitative", "format": "d"}}},
  {"data": {"values": [{}]}, "mark": {"type": "text", "text": "BBL/D/1K", "angle": 90, "align": "center", "baseline": "middle", "fontSize": 9, "fontWeight": "bold"}, "encoding": {"x": {"datum": 2017.61, "axis": null}, "y": {"datum": 87.5, "axis": null}}},
  {"data": {"name": "cmr_arr"}, "mark": {"type": "line", "color": "#8dcb4a", "strokeWidth": 9, "strokeCap": "butt", "strokeJoin": "miter"}, "encoding": {"x": {"field": "t", "type": "quantitative", "axis": null}, "y": {"field": "v", "type": "quantitative", "axis": null}, "detail": {"field": "p"}, "order": {"field": "o"}}},
  {"data": {"values": [{}]}, "mark": {"type": "text", "text": "Cameroon", "font": "Liberation Sans", "fontSize": 46, "align": "left", "baseline": "alphabetic", "color": "#000000"}, "encoding": {"x": {"datum": 1997.47, "axis": null}, "y": {"datum": 123, "axis": null}}},
  {"data": {"values": [{}]}, "mark": {"type": "text", "text": "CAMEROON CRUDE OIL PRODUCTION", "fontSize": 8.5, "fontWeight": "bold", "align": "left", "baseline": "middle", "color": "#3a3340"}, "encoding": {"x": {"datum": 1996.66, "axis": null}, "y": {"datum": 150.4, "axis": null}}},
  {"data": {"values": [{}]}, "mark": {"type": "text", "text": "SOURCE: WWW.TRADINGECONOMICS.COM | U.S. ENERGY INFORMATION ADMINISTRATION", "fontSize": 7, "align": "right", "baseline": "middle", "color": "#a0a0a0"}, "encoding": {"x": {"datum": 2017.07, "axis": null}, "y": {"datum": 23.7, "axis": null}}}
 ]},
 {"width": 624, "height": 404, "layer": [
  {"data": {"values": [{}]}, "mark": {"type": "rect", "fill": "transparent", "stroke": "#a3bed3", "strokeWidth": 38, "clip": true}, "encoding": {}},
  {"data": {"values": [{}]}, "mark": {"type": "rect", "fill": "transparent", "stroke": "#c9e0ef", "strokeWidth": 31, "clip": true}, "encoding": {}},
  {"data": {"name": "ago_yt"}, "mark": {"type": "rule", "color": "#e6e6e6"}, "encoding": {"y": {"field": "v", "type": "quantitative", "axis": null}, "x": {"datum": 1993.90, "axis": null}, "x2": {"datum": 2016.38}}},
  {"data": {"name": "ago_xt"}, "mark": {"type": "rule", "color": "#eeeeee"}, "encoding": {"x": {"field": "t", "type": "quantitative", "axis": null}, "y": {"datum": 500, "axis": null}, "y2": {"datum": 2500}}},
  {"data": {"name": "ago"}, "mark": {"type": "line", "color": "#4a85c0", "strokeWidth": 2}, "encoding": {
    "x": {"field": "t", "type": "quantitative", "scale": {"domain": [1996, 2016], "range": [88.7, 524.6], "nice": false, "zero": false}, "axis": null},
    "y": {"field": "v", "type": "quantitative", "scale": {"domain": [500, 2500], "range": [331.3, 71.7], "nice": false, "zero": false}, "axis": null}}},
  {"data": {"name": "ago_yt"}, "mark": {"type": "text", "align": "left", "baseline": "middle"}, "encoding": {"y": {"field": "v", "type": "quantitative", "axis": null}, "x": {"datum": 2016.71, "axis": null}, "text": {"field": "v", "type": "quantitative", "format": "d"}}},
  {"data": {"name": "ago_xt"}, "mark": {"type": "text", "align": "center", "baseline": "middle"}, "encoding": {"x": {"field": "t", "type": "quantitative", "axis": null}, "y": {"datum": 415.3, "axis": null}, "text": {"field": "t", "type": "quantitative", "format": "d"}}},
  {"data": {"values": [{}]}, "mark": {"type": "text", "text": "BBL/D/1K", "angle": 90, "align": "center", "baseline": "middle", "fontSize": 9, "fontWeight": "bold"}, "encoding": {"x": {"datum": 2019.05, "axis": null}, "y": {"datum": 1450, "axis": null}}},
  {"data": {"name": "ago_arr"}, "mark": {"type": "line", "color": "#55b5ef", "strokeWidth": 9, "strokeCap": "butt", "strokeJoin": "miter"}, "encoding": {"x": {"field": "t", "type": "quantitative", "axis": null}, "y": {"field": "v", "type": "quantitative", "axis": null}, "detail": {"field": "p"}, "order": {"field": "o"}}},
  {"data": {"values": [{}]}, "mark": {"type": "text", "text": "Angola", "font": "Liberation Sans", "fontSize": 46, "align": "left", "baseline": "alphabetic", "color": "#000000"}, "encoding": {"x": {"datum": 1994.93, "axis": null}, "y": {"datum": 2033, "axis": null}}},
  {"data": {"values": [{}]}, "mark": {"type": "text", "text": "ANGOLA CRUDE OIL PRODUCTION", "fontSize": 8.5, "fontWeight": "bold", "align": "left", "baseline": "middle", "color": "#3a3340"}, "encoding": {"x": {"datum": 1994.78, "axis": null}, "y": {"datum": 2708, "axis": null}}},
  {"data": {"values": [{}]}, "mark": {"type": "text", "text": "SOURCE: WWW.TRADINGECONOMICS.COM | ORGANIZATION OF THE PETROLEUM EXPORTING COUNTRIES", "fontSize": 7, "align": "right", "baseline": "middle", "color": "#a0a0a0"}, "encoding": {"x": {"datum": 2018.44, "axis": null}, "y": {"datum": 173.4, "axis": null}}}
 ]}
]}
]
}
